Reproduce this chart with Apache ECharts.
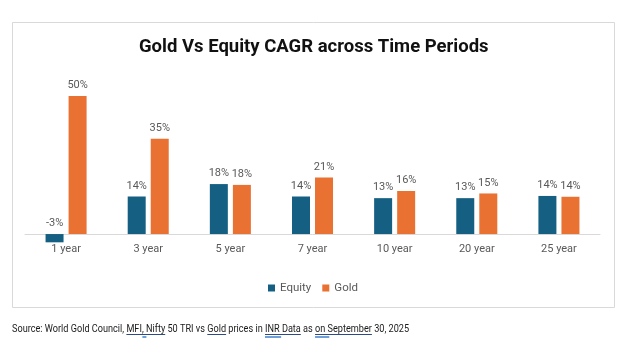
<!DOCTYPE html>
<html>
<head>
<meta charset="utf-8">
<script src="https://cdn.jsdelivr.net/npm/echarts@6/dist/echarts.min.js"></script>
<style>html,body{margin:0;padding:0;background:#fff;}#c{width:642px;height:346px;}</style>
</head>
<body>
<div id="c"></div>
<script>
var categories = ['1 year', '3 year', '5 year', '7 year', '10 year', '20 year', '25 year'];
var equityValues = [-3, 13.6, 18.1, 13.6, 13, 13, 13.8];
var goldValues = [50, 34.5, 17.8, 20.5, 15.6, 14.7, 13.5];
var seriesNames = ['Equity', 'Gold'];
var titleText = 'Gold Vs Equity CAGR across Time Periods';
var sourceText = 'Source: World Gold Council, MFI, Nifty 50 TRI vs Gold prices in INR Data as on September 30, 2025';
var underlinedWords = ['MFI, Nifty', 'Gold prices', 'INR Data', 'on September'];

var chart = echarts.init(document.getElementById('c'), null, {renderer: 'canvas'});
var labelStyle = {
  show: true, position: 'top', distance: 5, color: '#595959', fontSize: 11,
  fontFamily: 'Roboto',
  formatter: function (p) { return Math.round(p.value) + '%'; }
};

var srcX = 12, srcScale = 0.795, srcFont = '11.5px Roboto';
var ctx = document.createElement('canvas').getContext('2d');
ctx.font = srcFont;
var graphics = [
  {type: 'rect', shape: {x: 12.5, y: 22.5, width: 602, height: 285},
   style: {fill: 'none', stroke: '#d9d9d9', lineWidth: 1}, z: -1},
  {type: 'text', x: srcX, y: 323, scaleX: srcScale,
   style: {text: sourceText, fill: '#1a1a1a', fontSize: 11.5, fontFamily: 'Roboto'}}
];
underlinedWords.forEach(function (w, i) {
  var word = (w === 'Gold prices') ? 'Gold' : w;
  var idx = (w === 'Gold prices') ? sourceText.indexOf('Gold prices') : sourceText.indexOf(w);
  var x1 = srcX + ctx.measureText(sourceText.slice(0, idx)).width * srcScale;
  var x2 = x1 + ctx.measureText(word).width * srcScale;
  graphics.push({type: 'line', shape: {x1: x1, y1: 334.5, x2: x2, y2: 334.5},
                 style: {stroke: '#2e4a86', lineWidth: 1}});
  if (i !== 1) {
    var len = (i === 0) ? 4 : (x2 - x1) * (i === 2 ? 0.45 : 0.25);
    var sx = (i === 0) ? x1 + 16 : x1;
    graphics.push({type: 'line', shape: {x1: sx, y1: 337, x2: sx + len, y2: 337},
                   style: {stroke: '#6f9fd6', lineWidth: 2}});
  }
});

chart.setOption({
  animation: false,
  backgroundColor: '#fff',
  title: {
    text: titleText, left: 134, top: 33,
    textStyle: {fontFamily: 'Roboto', fontWeight: 'bold', fontSize: 18.5, color: '#111'}
  },
  legend: {
    data: seriesNames, top: 277, left: 263,
    itemWidth: 7, itemHeight: 7, itemGap: 11, icon: 'rect',
    textStyle: {color: '#595959', fontSize: 11.5, fontFamily: 'Roboto'}
  },
  grid: {left: 25, right: 42, top: 68.4, bottom: 102.3, containLabel: false},
  xAxis: {
    type: 'category', data: categories,
    axisLine: {onZero: true, lineStyle: {color: '#d9d9d9'}},
    axisTick: {show: false},
    axisLabel: {color: '#595959', fontSize: 11, fontFamily: 'Roboto', margin: 0}
  },
  yAxis: {
    type: 'value', min: -3.5, max: 60,
    show: false, splitLine: {show: false}
  },
  graphic: graphics,
  series: [
    {name: seriesNames[0], type: 'bar', data: equityValues, barWidth: 18, barGap: '28%',
     itemStyle: {color: '#156082'}, label: labelStyle},
    {name: seriesNames[1], type: 'bar', data: goldValues, barWidth: 18,
     itemStyle: {color: '#E97132'}, label: labelStyle}
  ]
});
</script>
</body>
</html>
